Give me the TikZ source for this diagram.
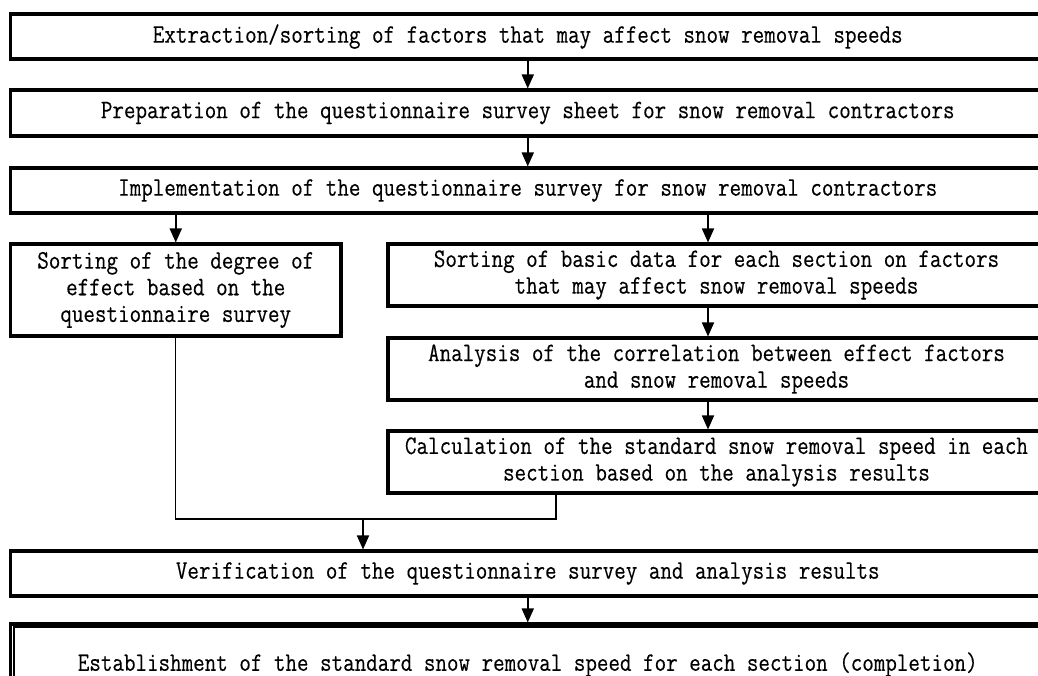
\documentclass[tikz,border=0pt]{standalone}
\usepackage{fontspec}
\setmonofont{Latin Modern Mono}[FakeStretch=0.84,FakeBold=0.3]
\usetikzlibrary{arrows.meta}
\begin{document}
\begin{tikzpicture}[x=0.75pt,y=-0.75pt,
  stepbox/.style={draw, line width=2.3pt, inner sep=0pt, align=center,
    font=\ttfamily\fontsize{20}{20}\selectfont},
  widebox/.style={stepbox, minimum width=775.9pt, minimum height=33.75pt},
  rightbox/.style={stepbox, minimum width=492.75pt, minimum height=46.5pt},
  flow/.style={line width=1.3pt, -{Triangle[length=10.5pt,width=9pt]}},
  merge/.style={line width=0.8pt}]
\useasboundingbox (0,0) rectangle (1038,675);
\clip (0,0) rectangle (1038,675);

% main column
\node[widebox] (b1) at (527.75,36.5)
  {Extraction/sorting of factors that may affect snow removal speeds};
\node[widebox, minimum height=34.5pt] (b2) at (527.75,113)
  {Preparation of the questionnaire survey sheet for snow removal contractors};
\node[widebox] (b3) at (527.75,190.5)
  {Implementation of the questionnaire survey for snow removal contractors};

% left branch
\node[stepbox, minimum width=247.9pt, minimum height=69pt] (L) at (175.75,290)
  {Sorting of the degree of\\effect based on the\\questionnaire survey};

% right branch
\node[rightbox] (A) at (716.5,275)
  {Sorting of basic data for each section on factors\\that may affect snow removal speeds};
\node[rightbox] (B) at (716.5,369)
  {Analysis of the correlation between effect factors\\and snow removal speeds};
\node[rightbox] (C) at (716.5,462)
  {Calculation of the standard snow removal speed in each\\section based on the analysis results};

% closing steps
\node[widebox] (V) at (527.75,573.5)
  {Verification of the questionnaire survey and analysis results};
\node[widebox, minimum height=60.75pt] (F) at (527.75,664.5)
  {Establishment of the standard snow removal speed for each section (completion)};
\draw[line width=1.4pt] ([shift={(4.8,4.8)}]F.north west)
  rectangle ([shift={(-4.8,-4.8)}]F.south east);

% connectors
\coordinate (rc) at (708,0);
\coordinate (jl) at (175.75,519);
\coordinate (jr) at (556,519);
\coordinate (jm) at (363,519);

\draw[flow] (b1.south) -- (b2.north);
\draw[flow] (b2.south) -- (b3.north);
\draw[flow] (b3.south -| L.north) -- (L.north);
\draw[flow] (b3.south -| rc) -- (A.north -| rc);
\draw[flow] (A.south -| rc) -- (B.north -| rc);
\draw[flow] (B.south -| rc) -- (C.north -| rc);
\draw[merge] (L.south) -- (jl) -- (jr) -- (C.south -| jr);
\draw[flow] (jm) -- (V.north -| jm);
\draw[flow] (V.south) -- (F.north);
\end{tikzpicture}
\end{document}
